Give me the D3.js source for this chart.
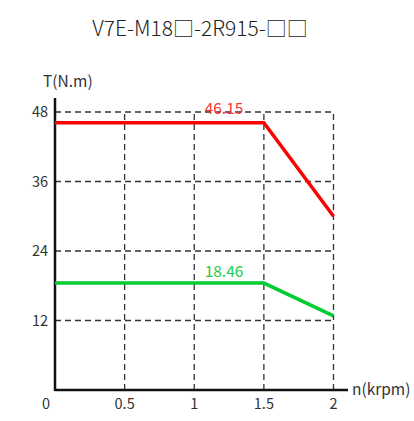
<!DOCTYPE html>
<html><head><meta charset="utf-8">
<script src="https://cdn.jsdelivr.net/npm/d3@7"></script>
<style>body{margin:0;background:#fff}svg{display:block}text{font-family:"Noto Sans CJK JP","Noto Sans",sans-serif}</style>
</head><body><svg id="c" width="414" height="421"></svg>
<script>
const title = "V7E-M18□-2R915-□□";
const xTicks = [0.5, 1, 1.5, 2];
const xTickLabels = ["0.5", "1", "1.5", "2"];
const yTicks = [12, 24, 36, 48];
const speed = [0, 1.5, 2];
const peakTorque = [46.15, 46.15, 30];
const ratedTorque = [18.46, 18.46, 12.8];
const peakLabel = "46.15";
const ratedLabel = "18.46";

const svg = d3.select("#c");
const x = d3.scaleLinear().domain([0, 2]).range([55, 333.5]);
const y = d3.scaleLinear().domain([0, 48]).range([390, 112]);

svg.append("text").attr("x", 200).attr("y", 36).attr("text-anchor", "middle")
  .attr("font-size", 21).attr("font-weight", 300).attr("fill", "#222").text(title);

// grid
const grid = svg.append("g").attr("stroke", "#333").attr("stroke-width", 1.3).attr("stroke-dasharray", "6,4");
grid.selectAll(".h").data(yTicks).join("line")
  .attr("x1", x(0)).attr("x2", x(2)).attr("y1", d => y(d)).attr("y2", d => y(d));
grid.selectAll(".v").data(xTicks).join("line")
  .attr("x1", d => x(d)).attr("x2", d => x(d)).attr("y1", y(0)).attr("y2", y(48));

// axes
svg.append("line").attr("x1", x(0)).attr("x2", 348).attr("y1", y(0)).attr("y2", y(0)).attr("stroke", "#111").attr("stroke-width", 2.5);
svg.append("line").attr("x1", x(0)).attr("x2", x(0)).attr("y1", y(0) + 1).attr("y2", 98).attr("stroke", "#111").attr("stroke-width", 2.5);

// tick labels
svg.selectAll(".yl").data(yTicks).join("text")
  .attr("x", 48).attr("y", d => y(d) + 5).attr("text-anchor", "end")
  .attr("font-size", 14.5).attr("fill", "#333").text(d => d);
svg.selectAll(".xl").data(xTicks).join("text")
  .attr("x", d => x(d)).attr("y", 409).attr("text-anchor", "middle")
  .attr("font-size", 14.5).attr("fill", "#333").text((d, i) => xTickLabels[i]);
svg.append("text").attr("x", 46).attr("y", 409).attr("text-anchor", "middle")
  .attr("font-size", 14.5).attr("fill", "#333").text("0");
svg.append("text").attr("x", 43).attr("y", 87).attr("font-size", 15.5).attr("fill", "#333").text("T(N.m)");
svg.append("text").attr("x", 352).attr("y", 395).attr("font-size", 15.5).attr("fill", "#333").text("n(krpm)");

const line = d3.line().x(d => x(d[0])).y(d => y(d[1]));
svg.append("path").datum(speed.map((s, i) => [s, peakTorque[i]])).attr("d", line)
  .attr("fill", "none").attr("stroke", "#ff0000").attr("stroke-width", 3.5);
svg.append("path").datum(speed.map((s, i) => [s, ratedTorque[i]])).attr("d", line)
  .attr("fill", "none").attr("stroke", "#00cc33").attr("stroke-width", 3.5);

svg.append("text").attr("x", 224).attr("y", y(peakTorque[0]) - 9).attr("text-anchor", "middle")
  .attr("font-size", 15.5).attr("fill", "#ff3333").text(peakLabel);
svg.append("text").attr("x", 224).attr("y", y(ratedTorque[0]) - 6).attr("text-anchor", "middle")
  .attr("font-size", 15.5).attr("fill", "#22cc44").text(ratedLabel);
</script></body></html>
